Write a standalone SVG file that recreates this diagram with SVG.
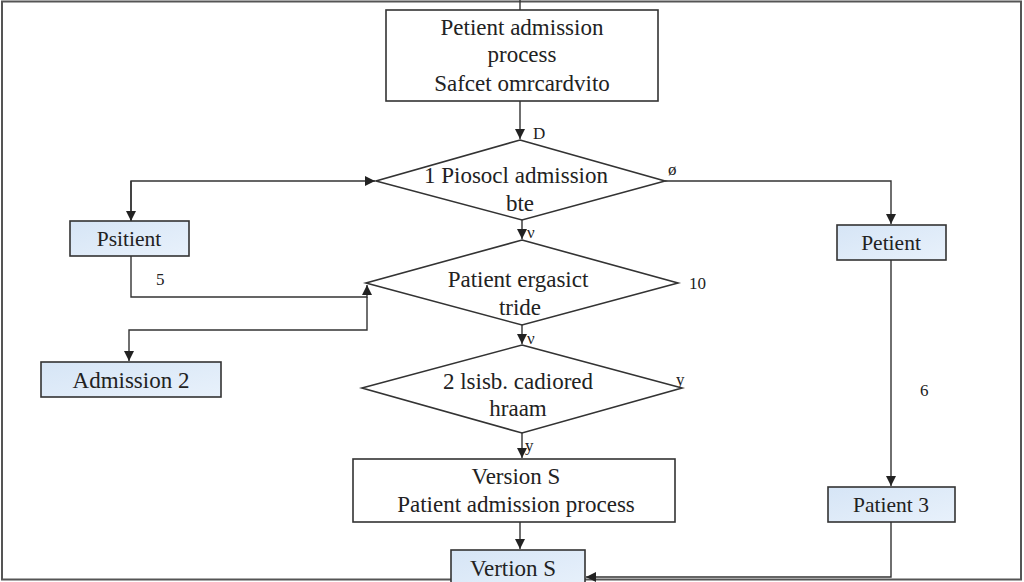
<svg xmlns="http://www.w3.org/2000/svg" width="1024" height="582" viewBox="0 0 1024 582">
<defs>
<marker id="ah" viewBox="0 0 10 10" refX="10" refY="5" markerWidth="10" markerHeight="10" markerUnits="userSpaceOnUse" orient="auto">
<path d="M0,0 L10,5 L0,10 z" fill="#222"/>
</marker>
<linearGradient id="blue" x1="0" y1="0" x2="1" y2="1">
<stop offset="0" stop-color="#d6e5f6"/>
<stop offset="1" stop-color="#e8f1fb"/>
</linearGradient>
</defs>
<style>
.box{fill:#fff;stroke:#333;stroke-width:1.6}
.bbox{fill:url(#blue);stroke:#333;stroke-width:1.6}
.dia{fill:#fff;stroke:#333;stroke-width:1.6}
.c{fill:none;stroke:#333;stroke-width:1.4}
.t{font-family:"Liberation Serif","DejaVu Serif",serif;font-size:23px;fill:#222;text-anchor:middle}
.s{font-family:"Liberation Serif","DejaVu Serif",serif;font-size:21.5px;fill:#222;text-anchor:middle}
.l{font-family:"Liberation Serif","DejaVu Serif",serif;font-size:17px;fill:#222}
</style>
<rect x="0" y="0" width="1024" height="582" fill="#fff"/>
<rect x="2" y="1.5" width="1019" height="578" fill="none" stroke="#555" stroke-width="2"/>
<g id="connectors">
<path class="c" d="M520,0 V10"/>
<path class="c" d="M520,101 V139" marker-end="url(#ah)"/>
<path class="c" d="M131,222 V181 H375" marker-end="url(#ah)"/>
<path class="c" d="M131,181 V221" marker-end="url(#ah)"/>
<path class="c" d="M131,256 V297 H367 V285" marker-end="url(#ah)"/>
<path class="c" d="M367,297 V330 H129 V361" marker-end="url(#ah)"/>
<path class="c" d="M522,220 V239" marker-end="url(#ah)"/>
<path class="c" d="M522,325 V344" marker-end="url(#ah)"/>
<path class="c" d="M522,433 V458" marker-end="url(#ah)"/>
<path class="c" d="M520,522 V549" marker-end="url(#ah)"/>
<path class="c" d="M665,181 H891 V224" marker-end="url(#ah)"/>
<path class="c" d="M891,260 V486" marker-end="url(#ah)"/>
<path class="c" d="M891,522 V577 H586" marker-end="url(#ah)"/>
<text class="l" x="533" y="139">D</text>
<text class="l" x="668" y="175">ø</text>
<text class="l" x="527" y="238">ν</text>
<text class="l" x="156" y="285">5</text>
<text class="l" x="689" y="289">10</text>
<text class="l" x="676" y="385">y</text>
<text class="l" x="527" y="344">ν</text>
<text class="l" x="525" y="451">y</text>
<text class="l" x="920" y="396">6</text>
</g>
<g id="top">
<rect class="box" x="386" y="10" width="272" height="91"/>
<text class="t" x="522" y="35">Petient admission</text>
<text class="t" x="522" y="62">process</text>
<text class="t" x="522" y="91">Safcet omrcardvito</text>
</g>
<g id="d1">
<polygon class="dia" points="520,140 665,181 522,220 376,181"/>
<text class="t" x="516" y="183">1  Piosocl admission</text>
<text class="t" x="520" y="211">bte</text>
</g>
<g id="patient-left">
<rect class="bbox" x="70" y="221" width="119" height="35"/>
<text class="s" x="129" y="246">Psitient</text>
</g>
<g id="d2">
<polygon class="dia" points="522,240 678,283 522,325 366,283"/>
<text class="t" x="518" y="287">Patient ergasict</text>
<text class="t" x="520" y="315">tride</text>
</g>
<g id="admission2">
<rect class="bbox" x="41" y="362" width="180" height="35"/>
<text class="t" x="131" y="388">Admission 2</text>
</g>
<g id="d3">
<polygon class="dia" points="522,345 682,388 522,433 362,388"/>
<text class="t" x="518" y="389">2  lsisb. cadiored</text>
<text class="t" x="518" y="416">hraam</text>
</g>
<g id="version-box">
<rect class="box" x="353" y="459" width="322" height="63"/>
<text class="t" x="516" y="484">Version S</text>
<text class="t" x="516" y="512">Patient admission process</text>
</g>
<g id="version-bottom">
<rect class="bbox" x="451" y="550" width="134" height="40"/>
<text class="t" x="513" y="576">Vertion S</text>
</g>
<g id="patient-right">
<rect class="bbox" x="837" y="225" width="109" height="35"/>
<text class="s" x="891" y="250">Petient</text>
</g>
<g id="patient3">
<rect class="bbox" x="828" y="487" width="127" height="35"/>
<text class="s" x="891" y="512">Patient 3</text>
</g>
</svg>
